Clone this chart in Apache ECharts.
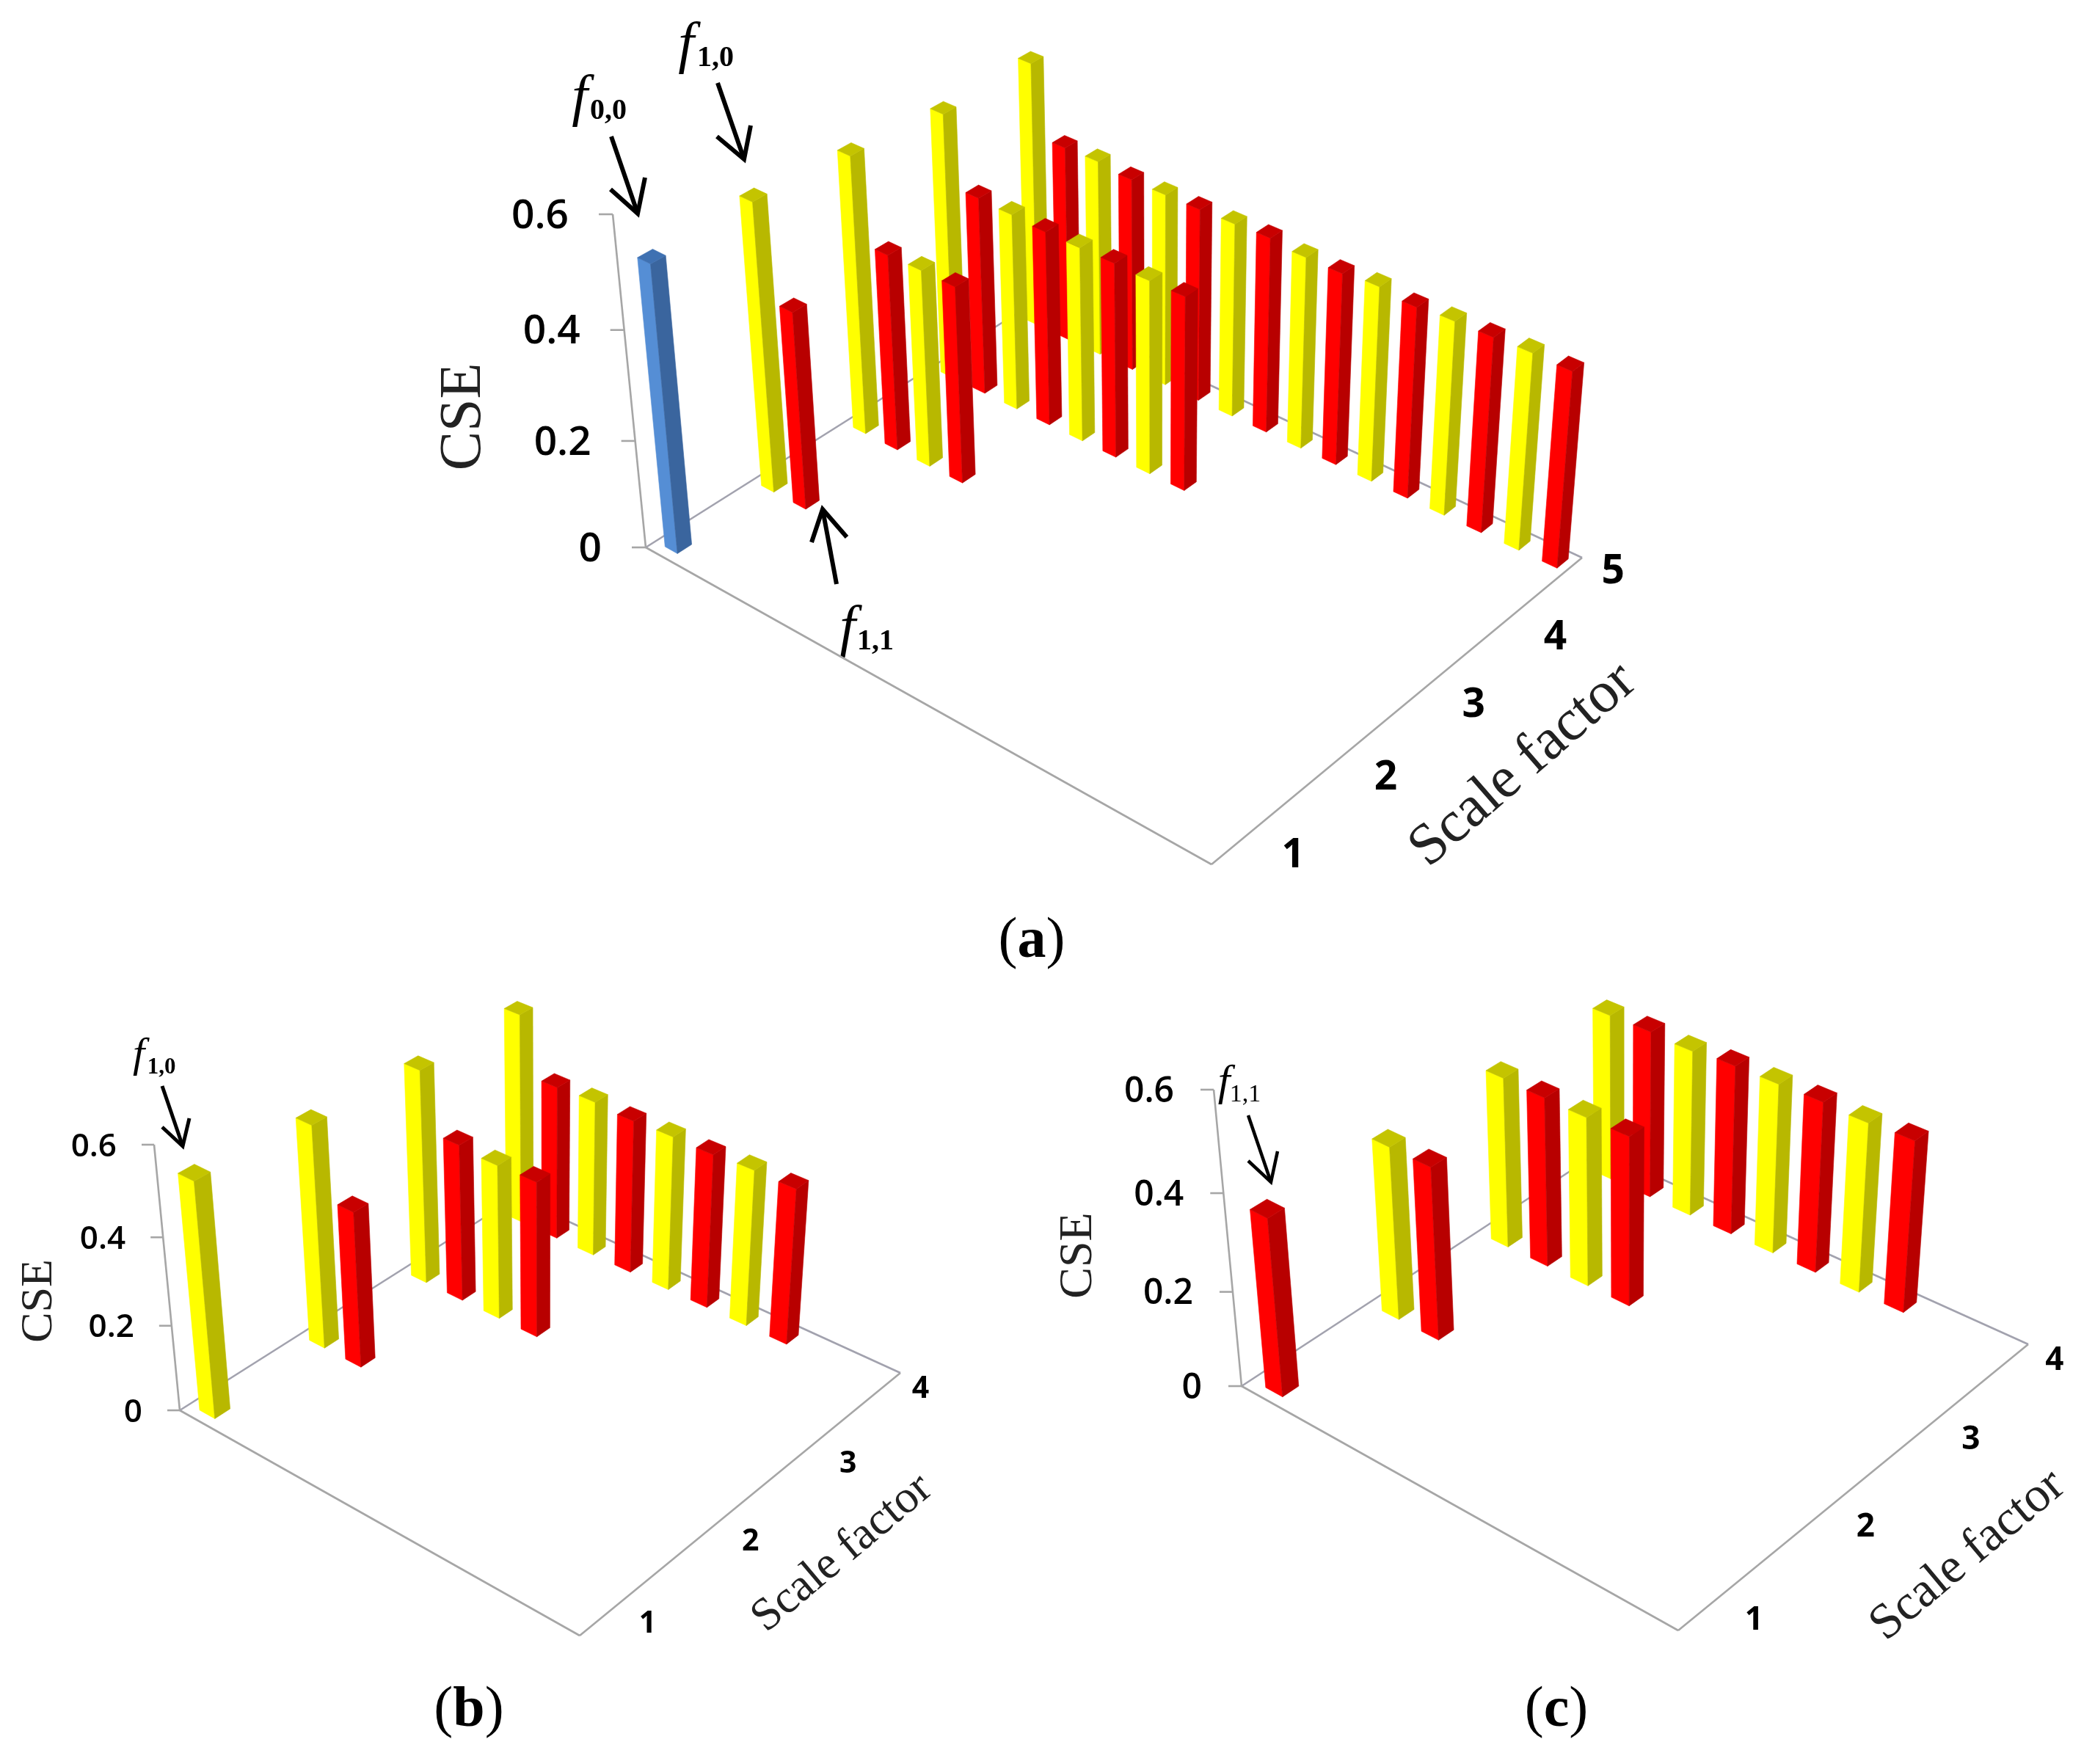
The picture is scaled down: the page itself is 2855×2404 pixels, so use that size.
<!DOCTYPE html>
<html><head><meta charset="utf-8">
<style>html,body{margin:0;padding:0;background:#fff}#c{width:2855px;height:2404px}</style>
<script src="https://cdn.jsdelivr.net/npm/echarts@6/dist/echarts.min.js"></script>
</head><body><div id="c"></div>
<script>
// ---- data: CSE per scale factor, position 1..n along the row ----
const valueTicks = [0, 0.2, 0.4, 0.6];
const scaleTicksA = [1, 2, 3, 4, 5];
const scaleTicksB = [1, 2, 3, 4];
const scaleTicksC = [1, 2, 3, 4];

const panelA1 = [0.525];
const panelA2 = [0.533, 0.366];
const panelA3 = [0.518, 0.367, 0.368, 0.367];
const panelA4 = [0.500, 0.373, 0.370, 0.366, 0.365, 0.365, 0.362, 0.362];
const panelA5 = [0.502, 0.371, 0.372, 0.365, 0.364, 0.364, 0.365, 0.367, 0.360, 0.359, 0.364, 0.356, 0.360, 0.361, 0.363, 0.361];

const panelB1 = [0.539];
const panelB2 = [0.518, 0.364];
const panelB3 = [0.505, 0.372, 0.365, 0.367];
const panelB4 = [0.503, 0.369, 0.372, 0.366, 0.368, 0.366, 0.370, 0.368];

const panelC1 = [0.370];
const panelC2 = [0.363, 0.362];
const panelC3 = [0.361, 0.358, 0.356, 0.356];
const panelC4 = [0.355, 0.356, 0.352, 0.358, 0.358, 0.359, 0.355, 0.358];

const PALETTE = {
  yellow: ['#FFFF00', '#B8B800', '#C4C400'],
  red:    ['#FF0000', '#B80000', '#C80000'],
  blue:   ['#558ED5', '#3A659E', '#3F71B2']
};

// ---- view set-up of each 3D plate ----
const panels = [
  { rows: [panelA1, panelA2, panelA3, panelA4, panelA5], first: 'blue', scales: scaleTicksA,
    A: [880, 746], B: [1651, 1178], C: [2156, 760], D: [1408, 413], T: [835, 292], V: [1575, 7762],
    cat: [0.5, 16.4], sc: [0.83, 5.15], bw: 0.39, bd: 0.145, tick: 19, gap: 41, vf: 55, sf: 55,
    scaleOffset: [[89, 7], [89, 5], [89, 5], [87, 7], [58, 6]],
    rect: [500, 0, 1900, 1260] },
  { rows: [panelB1, panelB2, panelB3, panelB4], first: 'yellow', scales: scaleTicksB,
    A: [245, 1922], B: [790, 2229], C: [1227, 1871], D: [703, 1632], T: [210, 1560], V: [742, 7063],
    cat: [0.5, 10.5], sc: [0.85, 4.15], bw: 0.42, bd: 0.135, tick: 17, gap: 34, vf: 44, sf: 41,
    scaleOffset: [[70, 3], [67, 8], [68, 10], [45, 8]],
    rect: [0, 1300, 1400, 1104] },
  { rows: [panelC1, panelC2, panelC3, panelC4], first: 'red', scales: scaleTicksC,
    A: [1692, 1889], B: [2287, 2222], C: [2764, 1832], D: [2181, 1569], T: [1654, 1485], V: [2213, 7432],
    cat: [0.42, 10.5], sc: [0.85, 4.14], bw: 0.43, bd: 0.135, tick: 18, gap: 36, vf: 48, sf: 44,
    scaleOffset: [[79, 6], [76, 6], [75, 5], [54, 8]],
    rect: [1400, 1300, 1455, 1104] }
];

function makeProjection(p) {
  const [x0, y0] = p.A, [x1, y1] = p.B, [x2, y2] = p.C, [x3, y3] = p.D;
  const dx1 = x1 - x2, dx2 = x3 - x2, sx = x0 - x1 + x2 - x3;
  const dy1 = y1 - y2, dy2 = y3 - y2, sy = y0 - y1 + y2 - y3;
  const den = dx1 * dy2 - dx2 * dy1;
  const g = (sx * dy2 - dx2 * sy) / den, h = (dx1 * sy - sx * dy1) / den;
  const a = x1 - x0 + g * x1, b = x3 - x0 + h * x3;
  const d = y1 - y0 + g * y1, e = y3 - y0 + h * y3;
  const k = ((p.T[1] - y0) / (p.V[1] - p.T[1])) / 0.6;
  return function (cat, sc, val) {
    const u = (cat - p.cat[0]) / (p.cat[1] - p.cat[0]);
    const v = (sc - p.sc[0]) / (p.sc[1] - p.sc[0]);
    const t = k * val;
    const W = g * u + h * v + 1 + t;
    return [(a * u + b * v + x0 + t * p.V[0]) / W, (d * u + e * v + y0 + t * p.V[1]) / W];
  };
}

function barData(p) {
  const out = [];
  for (let r = p.rows.length - 1; r >= 0; r--) {
    p.rows[r].forEach((val, i) => {
      const kind = r === 0 ? p.first : (i % 2 === 0 ? 'yellow' : 'red');
      out.push([i + 1, r + 1, val, kind]);
    });
  }
  return out;
}

const series = [], grid = [], xAxis = [], yAxis = [];
panels.forEach((p, idx) => {
  const proj = makeProjection(p);
  const [l, t, w, h] = p.rect;
  grid.push({ left: l, top: t, width: w, height: h, show: false });
  xAxis.push({ gridIndex: idx, type: 'value', min: l, max: l + w, show: false });
  yAxis.push({ gridIndex: idx, type: 'value', min: t, max: t + h, inverse: true, show: false });

  // frame: floor edges, value axis, tick labels
  series.push({
    type: 'custom', name: 'frame' + idx, xAxisIndex: idx, yAxisIndex: idx, clip: false, silent: true, z: 2,
    data: [[0]], encode: { x: 0, y: 0 },
    renderItem(params, api) {
      const c = q => api.coord(q);
      const children = [];
      const line = (q1, q2, color) => children.push({
        type: 'line',
        shape: { x1: q1[0], y1: q1[1], x2: q2[0], y2: q2[1] },
        style: { stroke: color || '#A6A6A6', lineWidth: 2.6 }
      });
      const A = c(proj(p.cat[0], p.sc[0], 0)), B = c(proj(p.cat[1], p.sc[0], 0));
      const C = c(proj(p.cat[1], p.sc[1], 0)), D = c(proj(p.cat[0], p.sc[1], 0));
      line(A, B); line(B, C); line(C, D, '#A2A2AE'); line(D, A, '#A2A2AE');
      line(A, c(proj(p.cat[0], p.sc[0], valueTicks[valueTicks.length - 1])));
      valueTicks.forEach(v => {
        const q = c(proj(p.cat[0], p.sc[0], v));
        line([q[0] - p.tick, q[1]], q);
        children.push({
          type: 'text', x: q[0] - p.tick - p.gap, y: q[1] + 3,
          style: { text: String(v), fontFamily: 'Open Sans', fontWeight: 600, fontSize: p.vf,
                   fill: '#000', align: 'right', verticalAlign: 'middle' }
        });
      });
      p.scales.forEach((s, i) => {
        const q = c(proj(p.cat[1], s, 0));
        children.push({
          type: 'text', x: q[0] + p.scaleOffset[i][0], y: q[1] + p.scaleOffset[i][1],
          style: { text: String(s), fontFamily: 'Open Sans', fontWeight: 700, fontSize: p.sf,
                   fill: '#000', align: 'center', verticalAlign: 'middle' }
        });
      });
      return { type: 'group', children };
    }
  });

  // bars, painted back to front
  const bars = barData(p);
  series.push({
    type: 'custom', name: 'CSE' + idx, xAxisIndex: idx, yAxisIndex: idx, clip: false, silent: true, z: 3,
    dimensions: ['position', 'scale', 'cse', 'kind'],
    encode: { x: 0, y: 2 },
    data: bars,
    renderItem(params, api) {
      const cat = api.value(0), sc = api.value(1), val = api.value(2);
      const colors = PALETTE[bars[params.dataIndex][3]];
      const w = p.bw / 2, d = p.bd / 2;
      const P = (cc, ss, vv) => api.coord(proj(cc, ss, vv));
      const L0 = P(cat - w, sc - d, 0), F0 = P(cat + w, sc - d, 0), R0 = P(cat + w, sc + d, 0);
      const L1 = P(cat - w, sc - d, val), F1 = P(cat + w, sc - d, val), R1 = P(cat + w, sc + d, val);
      const K1 = P(cat - w, sc + d, val);
      const face = (pts, col) => ({
        type: 'polygon', shape: { points: pts },
        style: { fill: col, stroke: col, lineWidth: 0.6 }
      });
      return { type: 'group', children: [
        face([L0, F0, F1, L1], colors[0]),
        face([F0, R0, R1, F1], colors[1]),
        face([L1, F1, R1, K1], colors[2])
      ] };
    }
  });
});

// ---- annotations and titles ----
const SERIF = 'Liberation Serif';
const arrows = [
  { tail: [833, 186], tip: [869, 291], w1: [832, 258], w2: [879, 242], lw: 6 },
  { tail: [978, 113], tip: [1014, 217], w1: [977, 186], w2: [1023, 171], lw: 6 },
  { tail: [1140, 796], tip: [1121, 694], w1: [1106, 739], w2: [1154, 732], lw: 6 },
  { tail: [221, 1480], tip: [249, 1562], w1: [221, 1536], w2: [258, 1524], lw: 5 },
  { tail: [1701, 1520], tip: [1732, 1611], w1: [1701, 1582], w2: [1741, 1569], lw: 4.5 }
];
const marks = [
  { f: [790, 135], fs: 78, sub: '0,0', s: [829, 152], ss: 40, w: 700 },
  { f: [935, 63], fs: 78, sub: '1,0', s: [975, 80], ss: 40, w: 700 },
  { f: [1155, 858], fs: 78, sub: '1,1', s: [1193, 875], ss: 40, w: 700 },
  { f: [189, 1439], fs: 58, sub: '1,0', s: [220, 1455], ss: 31, w: 700 },
  { f: [1668, 1476], fs: 60, sub: '1,1', s: [1697, 1492], ss: 34, w: 400 }
];
const axisTitles = [
  { text: 'CSE', x: 633, y: 568, size: 80, rot: 90 },
  { text: 'CSE', x: 54, y: 1773, size: 62, rot: 90 },
  { text: 'CSE', x: 1470, y: 1711, size: 64, rot: 90 },
  { text: 'Scale factor', x: 2076, y: 1043, size: 80, rot: 41 },
  { text: 'Scale factor', x: 1148, y: 2117, size: 63, rot: 40 },
  { text: 'Scale factor', x: 2682, y: 2120, size: 68, rot: 40 }
];
const plateLabels = [['a', 1406, 1284], ['b', 639, 2332], ['c', 2121, 2332]];

const graphic = [];
arrows.forEach(a => {
  graphic.push({ type: 'line', silent: true, shape: { x1: a.tail[0], y1: a.tail[1], x2: a.tip[0], y2: a.tip[1] },
    style: { stroke: '#000', lineWidth: a.lw } });
  graphic.push({ type: 'polyline', silent: true, shape: { points: [a.w1, a.tip, a.w2] },
    style: { stroke: '#000', lineWidth: a.lw, fill: null } });
});
marks.forEach(m => {
  graphic.push({ type: 'text', silent: true, x: m.f[0], y: m.f[1],
    style: { text: 'f', fontFamily: SERIF, fontStyle: 'italic', fontSize: m.fs, fill: '#000', align: 'center', verticalAlign: 'middle' } });
  graphic.push({ type: 'text', silent: true, x: m.s[0], y: m.s[1],
    style: { text: m.sub, fontFamily: SERIF, fontWeight: m.w, fontSize: m.ss, fill: '#000', align: 'center', verticalAlign: 'middle' } });
});
axisTitles.forEach(t => {
  graphic.push({ type: 'text', silent: true, x: t.x, y: t.y, rotation: t.rot * Math.PI / 180,
    style: { text: t.text, fontFamily: SERIF, fontSize: t.size, fill: '#222', align: 'center', verticalAlign: 'middle' } });
});
plateLabels.forEach(([letter, x, y]) => {
  graphic.push({ type: 'text', silent: true, x, y,
    style: { text: '{p|(}{b|' + letter + '}{p|)}', align: 'center', verticalAlign: 'middle',
      rich: { p: { fontFamily: SERIF, fontSize: 78, fill: '#000' },
              b: { fontFamily: SERIF, fontSize: 78, fontWeight: 700, fill: '#000' } } } });
});

const chart = echarts.init(document.getElementById('c'), null, { renderer: 'canvas' });
chart.setOption({ animation: false, backgroundColor: '#fff', grid, xAxis, yAxis, series, graphic });
</script></body></html>
